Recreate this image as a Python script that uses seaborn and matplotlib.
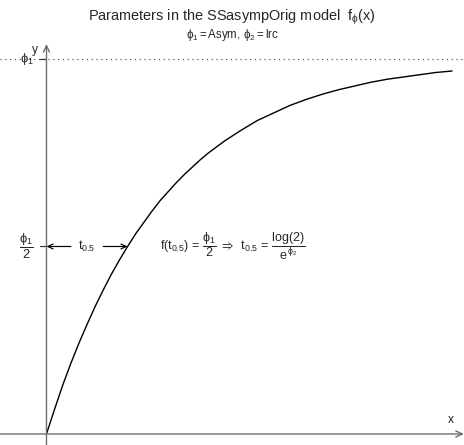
import matplotlib
matplotlib.use("Agg")
import matplotlib.pyplot as plt
import seaborn as sns
import pandas as pd

# Curve of the asymptotic-through-origin model, sampled along x
x_vals = [0.0, 0.1, 0.2, 0.3, 0.4, 0.5, 0.6, 0.7, 0.8, 0.9, 1.0,
          1.1, 1.2, 1.3, 1.4, 1.5, 1.6, 1.7, 1.8, 1.9, 2.0,
          2.2, 2.4, 2.6, 2.8, 3.0, 3.2, 3.4, 3.6, 3.8, 4.0,
          4.2, 4.4, 4.6, 4.8, 5.0]
y_vals = [0.0, 0.33, 0.65, 0.94, 1.21, 1.46, 1.70, 1.92, 2.13, 2.32, 2.50,
          2.67, 2.82, 2.97, 3.11, 3.23, 3.35, 3.46, 3.56, 3.66, 3.75,
          3.91, 4.05, 4.18, 4.28, 4.38, 4.46, 4.53, 4.59, 4.64, 4.69,
          4.73, 4.76, 4.79, 4.82, 4.84]

asym = 5.0          # phi_1, the horizontal asymptote
half_time = 1.0     # t_0.5, where the curve reaches asym / 2
tick_values = [asym / 2, asym]
tick_labels = [r"$\dfrac{\phi_1}{2}$", r"$\phi_1$"]

sns.set_theme(style="white")
plt.rcParams["font.family"] = ["Liberation Sans", "DejaVu Sans"]
plt.rcParams.update({
    "mathtext.fontset": "custom",
    "mathtext.rm": "Liberation Sans",
    "mathtext.it": "Liberation Sans",
    "mathtext.sf": "Liberation Sans",
    "mathtext.bf": "Liberation Sans:bold",
    "mathtext.fallback": "stixsans",
})

W, H, DPI = 464, 445, 72
fig = plt.figure(figsize=(W / DPI, H / DPI), dpi=DPI)
fig.patch.set_facecolor("white")
ax = fig.add_axes([0, 0, 1, 401 / H])
xlim = (-0.573, 5.148)
ylim = (-0.147, 5.2)

df = pd.DataFrame({"x": x_vals, "y": y_vals})
sns.lineplot(data=df, x="x", y="y", ax=ax, color="black", lw=1.4,
             sort=False, estimator=None)
ax.set_xlim(*xlim)
ax.set_ylim(*ylim)
ax.set_axis_off()

axis_col = "#6e6e6e"


def arrow(x0, y0, x1, y1, length, color, lw=1.2):
    hl = length * 0.906
    hw = length * 0.423
    ax.annotate("", xy=(x1, y1), xytext=(x0, y0),
                arrowprops=dict(arrowstyle=f"->,head_length={hl},head_width={hw}",
                                color=color, lw=lw, shrinkA=0, shrinkB=0,
                                mutation_scale=1),
                annotation_clip=False)


# coordinate axes
arrow(xlim[0], 0, xlim[1], 0, 7.2, axis_col, 1.4)
arrow(0, ylim[0], 0, ylim[1], 7.2, axis_col, 1.4)
ax.text(xlim[1] - 0.13, 0.1, "x", ha="right", va="bottom", fontsize=12)
ax.text(-0.1, ylim[1], "y", ha="right", va="top", fontsize=12)

# asymptote
ax.axhline(asym, color="#555555", lw=1.2, ls=(0, (1, 3)))

# y ticks at phi_1/2 and phi_1
for v, lab in zip(tick_values, tick_labels):
    ax.plot([0, -0.075], [v, v], color="#333333", lw=1.2, clip_on=False)
    ax.annotate(lab, xy=(0, v), xytext=(-13, 0), textcoords="offset points",
                ha="right", va="center", fontsize=13)

# half-time markers
arrow(0.3, asym / 2, 0, asym / 2, 5.76, "black")
arrow(0.7, asym / 2, half_time, asym / 2, 5.76, "black")
ax.text(0.5, asym / 2, r"$t_{0.5}$", ha="center", va="center", fontsize=12.5)
ax.text(half_time + 0.4, asym / 2,
        r"$f(t_{0.5})\,=\,\dfrac{\phi_1}{2}\;\Rightarrow\;\;t_{0.5}\,=\,"
        r"\dfrac{\mathrm{log(2)}}{e^{\phi_2}}$",
        ha="left", va="center", fontsize=12.5)

fig.text(0.5, 1 - 21 / H,
         r"Parameters in the SSasympOrig model  $f_{\phi}(x)$",
         ha="center", va="baseline", fontsize=14.5)
fig.text(0.5, 1 - 38 / H,
         r"$\phi_1=\mathrm{Asym},\,\phi_2=\mathrm{lrc}$",
         ha="center", va="baseline", fontsize=11.5)

fig.savefig("out.png", dpi=DPI, facecolor="white")
